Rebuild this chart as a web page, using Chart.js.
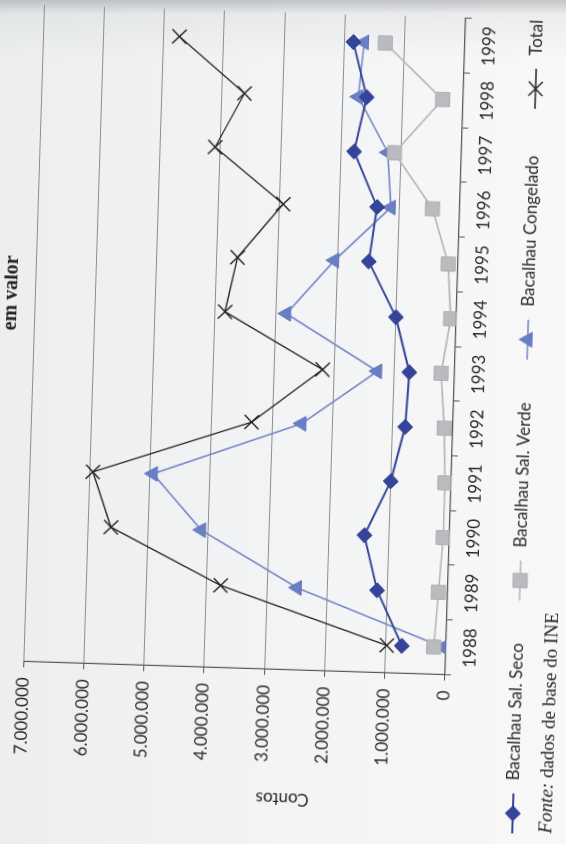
<!DOCTYPE html>
<html>
<head>
<meta charset="utf-8">
<script src="https://cdn.jsdelivr.net/npm/chart.js@4/dist/chart.umd.min.js"></script>
<style>
  html, body { margin: 0; padding: 0; width: 566px; height: 844px; overflow: hidden; }
  body {
    background:
      linear-gradient(to bottom, rgba(150,154,158,0.55) 0px, rgba(200,203,206,0.25) 14px, rgba(230,232,234,0) 60px),
      linear-gradient(to right, #eceeef 0px, #f3f4f5 300px, #f8f8f8 566px);
  }
  #page {
    position: absolute; left: -139px; top: 139px;
    width: 844px; height: 566px;
    transform-origin: 50% 50%;
    transform: rotate(-88.2deg);
  }
  canvas { display: block; }
</style>
</head>
<body>
<div id="page"><canvas id="c" width="844" height="566"></canvas></div>
<script>
// Exportações de bacalhau, em contos
const years = ['1988', '1989', '1990', '1991', '1992', '1993', '1994', '1995', '1996', '1997', '1998', '1999'];
const valueTicks = ['0', '1.000.000', '2.000.000', '3.000.000', '4.000.000', '5.000.000', '6.000.000', '7.000.000'];
const seriesNames = ['Bacalhau Sal. Seco', 'Bacalhau Sal. Verde', 'Bacalhau Congelado', 'Total'];

const salSeco   = [730000, 1170000, 1410000, 1000000, 790000, 750000, 1000000, 1480000, 1370000, 1780000, 1600000, 1850000];
const salVerde  = [200000, 150000, 100000, 100000, 140000, 220000, 90000, 160000, 450000, 1110000, 340000, 1320000];
const congelado = [50000, 2500000, 4120000, 4950000, 2510000, 1280000, 2820000, 2050000, 1140000, 1220000, 1740000, 1670000];
const total     = [980000, 3770000, 5620000, 5950000, 3340000, 2190000, 3840000, 3660000, 2930000, 4090000, 3630000, 4740000];

const axisTitle = 'Contos';
const sourceLabel = 'Fonte:';
const sourceText = ' dados de base do INE';
const titleTail = 'em valor';

const FONT = 'Lato';
const TEXT = '#2a2a2a';

// Custom legend, axis caption, source note and heading drawn on the chart canvas
const extras = {
  id: 'extras',
  afterDraw(chart) {
    const ctx = chart.ctx;
    ctx.save();

    // legend row: short line with the marker, then the series name
    const legendY = 525;
    const markerX = [38, 271, 512, 763];
    chart.data.datasets.forEach((ds, i) => {
      const mx = markerX[i];
      ctx.strokeStyle = ds.borderColor;
      ctx.lineWidth = ds.borderWidth;
      ctx.beginPath();
      ctx.moveTo(mx - 20, legendY);
      ctx.lineTo(mx + 20, legendY);
      ctx.stroke();
      ctx.fillStyle = ds.pointBackgroundColor;
      ctx.strokeStyle = ds.pointBorderColor;
      ctx.lineWidth = ds.pointBorderWidth;
      Chart.helpers.drawPoint(ctx, {
        pointStyle: ds.pointStyle, radius: ds.pointRadius,
        borderWidth: ds.pointBorderWidth, rotation: 0
      }, mx, legendY);
      ctx.fillStyle = TEXT;
      ctx.font = '17px ' + FONT;
      ctx.textAlign = 'left';
      ctx.textBaseline = 'middle';
      ctx.fillText(ds.label, mx + 33, legendY);
    });

    // value axis caption
    ctx.save();
    ctx.translate(46, 294);
    ctx.rotate(-Math.PI / 2);
    ctx.fillStyle = TEXT;
    ctx.font = '17px ' + FONT;
    ctx.textAlign = 'center';
    ctx.textBaseline = 'middle';
    ctx.fillText(axisTitle, 0, 0);
    ctx.restore();

    // source note
    ctx.textBaseline = 'middle';
    ctx.textAlign = 'left';
    ctx.fillStyle = '#1e1e1e';
    ctx.font = 'italic 19px "Liberation Serif"';
    ctx.fillText(sourceLabel, 19, 559);
    const w = ctx.measureText(sourceLabel).width;
    ctx.font = '19px "Liberation Serif"';
    ctx.fillText(sourceText, 19 + w, 559);

    // end of the heading line
    ctx.font = 'bold 20px "Liberation Serif"';
    ctx.textAlign = 'right';
    ctx.textBaseline = 'alphabetic';
    ctx.fillStyle = '#222';
    ctx.fillText(titleTail, 580, 13);

    ctx.restore();
  }
};

new Chart(document.getElementById('c'), {
  type: 'line',
  data: {
    labels: years,
    datasets: [
      {
        label: seriesNames[0], data: salSeco,
        borderColor: '#34449a', borderWidth: 2,
        pointStyle: 'rectRot', pointRadius: 7.5, pointBorderWidth: 1,
        pointBackgroundColor: '#34449a', pointBorderColor: '#2b3a8a'
      },
      {
        label: seriesNames[1], data: salVerde,
        borderColor: '#b2b4b7', borderWidth: 1.6,
        pointStyle: 'rect', pointRadius: 10, pointBorderWidth: 1,
        pointBackgroundColor: '#b9bbbe', pointBorderColor: '#adafb2'
      },
      {
        label: seriesNames[2], data: congelado,
        borderColor: '#7284c8', borderWidth: 1.6,
        pointStyle: 'triangle', pointRadius: 8.5, pointBorderWidth: 1,
        pointBackgroundColor: '#6a7ec6', pointBorderColor: '#6274be'
      },
      {
        label: seriesNames[3], data: total,
        borderColor: '#222222', borderWidth: 1.3,
        pointStyle: 'crossRot', pointRadius: 10, pointBorderWidth: 1.4,
        pointBackgroundColor: '#222222', pointBorderColor: '#222222'
      }
    ]
  },
  options: {
    responsive: false,
    animation: false,
    events: [],
    layout: { padding: { left: 0, right: 12.6, top: 31.3, bottom: 0 } },
    plugins: { legend: { display: false }, tooltip: { enabled: false } },
    elements: { line: { tension: 0 } },
    scales: {
      x: {
        type: 'category',
        offset: true,
        grid: { display: true, drawOnChartArea: false, drawTicks: true, tickLength: 6, offset: true, tickColor: '#555' },
        border: { display: true, color: '#555', width: 1.2 },
        ticks: { color: TEXT, font: { family: FONT, size: 17 }, padding: 9, maxRotation: 0, autoSkip: false },
        afterFit(scale) { scale.height = 113.2; }
      },
      y: {
        min: 0, max: 7000000,
        grid: { color: '#8e8e8e', lineWidth: 1, tickLength: 6, tickColor: '#555' },
        border: { display: true, color: '#555', width: 1.2 },
        ticks: {
          stepSize: 1000000, color: TEXT, font: { family: FONT, size: 17 }, padding: 10,
          callback: (v) => valueTicks[Math.round(v / 1000000)]
        },
        afterFit(scale) { scale.width = 174.6; }
      }
    }
  },
  plugins: [extras]
});
</script>
</body>
</html>
